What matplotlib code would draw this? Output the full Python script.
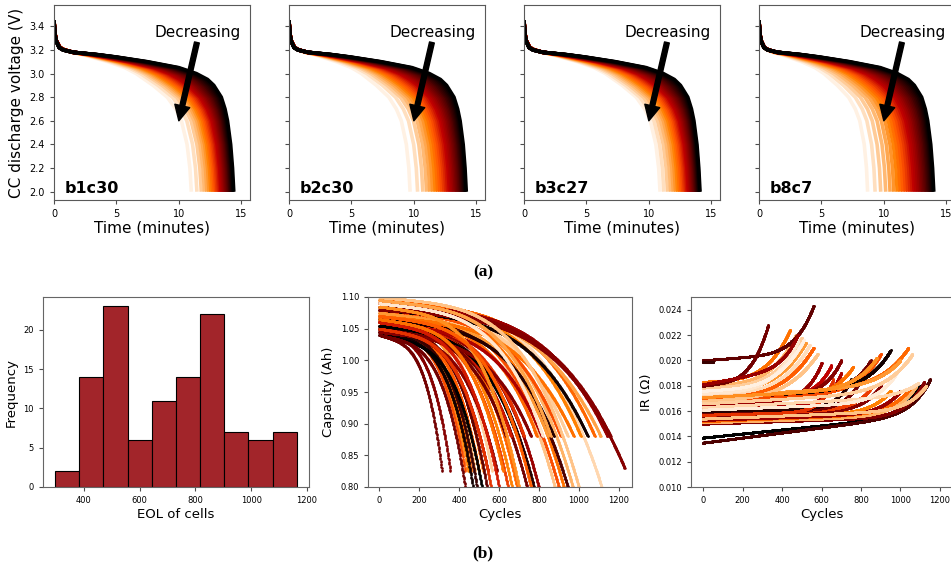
import numpy as np
import matplotlib
matplotlib.use('Agg')
import matplotlib.pyplot as plt

# ---- (a) CC discharge curves: shape of a fresh cycle and of the most aged cycle
tmpl_volt = [3.45, 3.35, 3.28, 3.22, 3.20, 3.18, 3.16, 3.14, 3.10, 3.05, 3.00,
             2.95, 2.90, 2.80, 2.70, 2.60, 2.40, 2.20, 2.00]
fresh_time = [0.0, 0.05, 0.15, 0.4, 0.7, 1.5, 3.5, 5.0, 7.5, 10.0, 11.4,
              12.3, 12.8, 13.4, 13.7, 13.9, 14.15, 14.3, 14.4]
aged_time = [0.0, 0.05, 0.15, 0.4, 0.7, 1.2, 2.0, 2.6, 3.8, 5.0, 5.8,
             6.4, 7.0, 8.0, 8.6, 9.0, 9.4, 9.6, 9.7]

cell_names = ['b1c30', 'b2c30', 'b3c27', 'b8c7']
# time (min) at which each cycle reaches 2.0 V, early cycles first
end_times = {
    'b1c30': [14.40, 14.34, 14.28, 14.22, 14.16, 14.10, 14.03, 13.96, 13.89, 13.81,
              13.73, 13.65, 13.56, 13.47, 13.38, 13.28, 13.18, 13.07, 12.96, 12.84,
              12.71, 12.57, 12.42, 12.25, 12.05, 11.80, 11.45, 11.00],
    'b2c30': [14.20, 14.13, 14.06, 13.98, 13.90, 13.82, 13.73, 13.64, 13.54, 13.44,
              13.33, 13.22, 13.10, 12.98, 12.85, 12.71, 12.57, 12.42, 12.26, 12.09,
              11.91, 11.72, 11.51, 11.28, 11.02, 10.72, 10.30, 9.70],
    'b3c27': [14.10, 14.05, 14.00, 13.95, 13.90, 13.84, 13.78, 13.72, 13.65, 13.58,
              13.50, 13.42, 13.34, 13.25, 13.16, 13.06, 12.96, 12.85, 12.73, 12.60,
              12.46, 12.31, 12.14, 11.96, 11.75, 11.50, 11.20, 10.90],
    'b8c7': [14.00, 13.92, 13.84, 13.75, 13.66, 13.56, 13.46, 13.35, 13.24, 13.12,
             13.00, 12.87, 12.73, 12.58, 12.43, 12.27, 12.10, 11.92, 11.73, 11.53,
             11.31, 11.07, 10.80, 10.50, 10.15, 9.75, 9.30, 8.70],
}

# ---- (b) histogram of end of life
eol_bin_lo = 297
eol_bin_hi = 1163
eol_counts = [2, 14, 23, 6, 11, 14, 22, 7, 6, 7]

# ---- (b) capacity fade per cell: start capacity, last cycle, last capacity, colour
cap_q0 = [1.040, 1.045, 1.050, 1.055, 1.060, 1.065, 1.055, 1.070, 1.050, 1.075,
          1.045, 1.045, 1.050, 1.040, 1.055, 1.060, 1.065, 1.070, 1.050, 1.055,
          1.060, 1.080, 1.075, 1.085, 1.070, 1.090, 1.095, 1.050, 1.060, 1.055,
          1.065, 1.045, 1.070, 1.060, 1.075, 1.065, 1.080, 1.085, 1.070, 1.090,
          1.080, 1.095, 1.085, 1.090, 1.085, 1.080, 1.060, 1.050, 1.100, 1.085,
          1.065, 1.040, 1.070, 1.090, 1.095]
cap_last = [314, 356, 430, 445, 462, 480, 500, 520, 545, 565,
            590, 470, 490, 515, 540, 645, 665, 690, 740, 775,
            800, 880, 900, 925, 945, 970, 1115, 635, 660, 690,
            725, 760, 790, 815, 845, 875, 910, 945, 975, 1010,
            1045, 1080, 1110, 1145, 1160, 1230, 600, 560, 1000, 700,
            620, 430, 760, 820, 860]
cap_end = [0.825, 0.825, 0.825, 0.825, 0.825, 0.825, 0.825, 0.825, 0.825, 0.825,
           0.825, 0.80, 0.80, 0.80, 0.80, 0.80, 0.80, 0.80, 0.80, 0.80,
           0.80, 0.80, 0.80, 0.80, 0.80, 0.80, 0.80, 0.88, 0.88, 0.88,
           0.88, 0.88, 0.88, 0.88, 0.88, 0.88, 0.88, 0.88, 0.88, 0.88,
           0.88, 0.88, 0.88, 0.88, 0.88, 0.83, 0.80, 0.80, 0.80, 0.80,
           0.825, 0.80, 0.80, 0.88, 0.88]
cap_shade = [0.30, 0.35, 0.65, 0.75, 0.70, 0.85, 0.68, 0.80, 0.45, 0.90,
             0.35, 0.05, 0.15, 0.00, 0.25, 0.62, 0.75, 0.70, 0.30, 0.10,
             0.40, 0.88, 0.65, 0.72, 0.20, 0.85, 0.92, 0.30, 0.55, 0.00,
             0.60, 0.35, 0.70, 0.45, 0.80, 0.10, 0.65, 0.90, 0.72, 0.75,
             0.05, 0.70, 0.82, 0.40, 0.35, 0.35, 0.55, 0.60, 0.88, 0.78,
             0.72, 0.30, 0.68, 0.95, 0.82]

# ---- (b) internal resistance per cell: start IR, drift per 1000 cycles, last cycle,
#      last IR, knee sharpness, colour
ir_r0 = [0.0139, 0.0135, 0.0150, 0.0151, 0.0152, 0.0153, 0.0155, 0.0156, 0.0158, 0.0159,
         0.0160, 0.0162, 0.0157, 0.0165, 0.0168, 0.0170, 0.0166, 0.0168, 0.0167, 0.0170,
         0.0169, 0.0172, 0.0183, 0.0180, 0.0178, 0.0175, 0.0172, 0.0170, 0.0168, 0.0174,
         0.0200, 0.0180, 0.0181, 0.0199, 0.0176, 0.0163, 0.0154, 0.0161, 0.0171, 0.0166]
ir_drift = [0.0016, 0.0020, 0.0005, 0.0005, 0.0006, 0.0005, 0.0004, 0.0005, 0.0004, 0.0003,
            0.0003, 0.0004, 0.0004, 0.0008, 0.0006, 0.0004, 0.0010, 0.0008, 0.0010, 0.0009,
            0.0012, 0.0008, 0.0010, 0.0010, 0.0010, 0.0010, 0.0010, 0.0010, 0.0010, 0.0008,
            0.0012, 0.0020, 0.0030, 0.0, 0.0010, 0.0008, 0.0006, 0.0006, 0.0008, 0.0009]
ir_last = [1100, 1150, 1120, 1080, 1050, 1000, 950, 900, 850, 800,
           750, 700, 660, 600, 650, 700, 760, 850, 900, 950,
           1040, 1000, 440, 470, 500, 520, 540, 560, 580, 480,
           560, 330, 480, 50, 510, 1090, 1130, 980, 880, 1060]
ir_end = [0.0180, 0.0185, 0.0183, 0.0180, 0.0178, 0.0176, 0.0176, 0.0180, 0.0178, 0.0185,
          0.0185, 0.0190, 0.0185, 0.0198, 0.0196, 0.0200, 0.0195, 0.0200, 0.0205, 0.0208,
          0.0210, 0.0200, 0.0224, 0.0220, 0.0218, 0.0214, 0.0212, 0.0210, 0.0205, 0.0215,
          0.0243, 0.0228, 0.0220, 0.0199, 0.0216, 0.0182, 0.0180, 0.0190, 0.0202, 0.0205]
ir_knee = [12, 12, 12, 10, 10, 10, 10, 10, 10, 10,
           10, 10, 10, 8, 8, 8, 8, 8, 8, 8,
           8, 8, 4, 4, 4, 4, 4, 4, 4, 4,
           6, 4, 6, 1, 4, 10, 12, 10, 8, 8]
ir_shade = [0.00, 0.20, 0.35, 0.85, 0.70, 0.40, 0.75, 0.35, 0.62, 0.30,
            0.10, 0.45, 0.60, 0.40, 0.50, 0.35, 0.72, 0.30, 0.65, 0.05,
            0.70, 0.80, 0.72, 0.85, 0.90, 0.80, 0.93, 0.68, 0.88, 0.95,
            0.25, 0.30, 0.40, 0.15, 0.97, 0.92, 0.88, 0.96, 0.78, 0.90]

cmap = plt.get_cmap('gist_heat')
W, H = 951, 569
fig = plt.figure(figsize=(W / 100, H / 100), dpi=100)

# ---------------- top row ----------------
tmpl_volt = np.array(tmpl_volt)
fresh = np.array(fresh_time) / fresh_time[-1]
aged = np.array(aged_time) / aged_time[-1]
top_lefts = [54, 289, 524, 759]
for i, name in enumerate(cell_names):
    ax = fig.add_axes([top_lefts[i] / W, 1 - 200 / H, 196 / W, 195 / H])
    ends = end_times[name]
    shades = np.linspace(0, 0.97, len(ends))
    for te, sh in reversed(list(zip(ends, shades))):
        w = sh / 0.97
        t = ((1 - w) * fresh + w * aged) * te
        ax.plot(t, tmpl_volt, color=cmap(sh), lw=2.6, solid_capstyle='butt',
                solid_joinstyle='round')
    ax.set_xlim(0, 15.7)
    ax.set_ylim(1.93, 3.58)
    ax.set_xticks([0, 5, 10, 15])
    ax.set_yticks(np.arange(2.0, 3.41, 0.2))
    ax.tick_params(labelsize=7, length=3, color='0.3')
    if i == 0:
        ax.set_ylabel('CC discharge voltage (V)', fontsize=11, labelpad=4)
    else:
        ax.set_yticklabels([])
    ax.set_xlabel('Time (minutes)', fontsize=11, labelpad=1)
    ax.text(0.056, 0.035, name, transform=ax.transAxes, fontsize=11.5,
            fontweight='bold', va='baseline')
    ax.annotate('Decreasing', xy=(10.0, 2.6), xytext=(11.5, 3.35),
                ha='center', va='center', fontsize=11,
                arrowprops=dict(facecolor='black', edgecolor='black', width=3.5,
                                headwidth=11, headlength=11, shrink=0.0))
    for sp in ax.spines.values():
        sp.set_color('0.35')

fig.text(483 / W, 1 - 272 / H, '(a)', ha='center', va='center',
         fontsize=12.5, fontweight='bold', family='Liberation Serif')
fig.text(483 / W, 1 - 553 / H, '(b)', ha='center', va='center',
         fontsize=12.5, fontweight='bold', family='Liberation Serif')

bot_y = 1 - 487 / H
bot_h = 190 / H

# ---------------- histogram ----------------
ax = fig.add_axes([43 / W, bot_y, 266 / W, bot_h])
edges = np.linspace(eol_bin_lo, eol_bin_hi, len(eol_counts) + 1)
ax.bar(edges[:-1], eol_counts, width=np.diff(edges), align='edge',
       color='#a2252a', edgecolor='black', linewidth=0.8)
ax.set_xlim(254, 1207)
ax.set_ylim(0, 24.2)
ax.set_xticks([400, 600, 800, 1000, 1200])
ax.set_yticks([0, 5, 10, 15, 20])
ax.set_xlabel('EOL of cells', fontsize=9.5, labelpad=2)
ax.set_ylabel('Frequency', fontsize=9.5)
ax.tick_params(labelsize=6, length=3, color='0.3')
for sp in ax.spines.values():
    sp.set_color('0.4')

# ---------------- capacity ----------------
ax = fig.add_axes([368 / W, bot_y, 264 / W, bot_h])
for q0, last, qend, sh in zip(cap_q0, cap_last, cap_end, cap_shade):
    n = np.arange(0, last + 1)
    x = n / last
    a = 0.03
    q = q0 - a * x - (q0 - a - qend) * x ** 4
    ax.plot(n, q, linestyle='none', marker='o', ms=1.8, mew=0, color=cmap(sh))
ax.set_xlim(-57, 1267)
ax.set_ylim(0.80, 1.10)
ax.set_xticks([0, 200, 400, 600, 800, 1000, 1200])
ax.set_yticks(np.arange(0.80, 1.101, 0.05))
ax.yaxis.set_major_formatter(matplotlib.ticker.FormatStrFormatter('%.2f'))
ax.set_xlabel('Cycles', fontsize=9.5, labelpad=2)
ax.set_ylabel('Capacity (Ah)', fontsize=9.5)
ax.tick_params(labelsize=6, length=3, color='0.3')
for sp in ax.spines.values():
    sp.set_color('0.4')

# ---------------- internal resistance ----------------
ax = fig.add_axes([691 / W, bot_y, 261 / W, bot_h])
for r0, dr, last, rend, p, sh in zip(ir_r0, ir_drift, ir_last, ir_end, ir_knee, ir_shade):
    n = np.arange(0, last + 1)
    base = r0 + dr * n / 1000
    r = base + (rend - r0 - dr * last / 1000) * (n / last) ** p
    ax.plot(n, r, linestyle='none', marker='o', ms=2.2, mew=0, color=cmap(sh))
ax.set_xlim(-61, 1261)
ax.set_ylim(0.010, 0.0250)
ax.set_xticks([0, 200, 400, 600, 800, 1000, 1200])
ax.set_yticks(np.arange(0.010, 0.0241, 0.002))
ax.yaxis.set_major_formatter(matplotlib.ticker.FormatStrFormatter('%.3f'))
ax.set_xlabel('Cycles', fontsize=9.5, labelpad=2)
ax.set_ylabel('IR (\u03a9)', fontsize=9.5)
ax.tick_params(labelsize=6, length=3, color='0.3')
for sp in ax.spines.values():
    sp.set_color('0.4')

fig.savefig('out.png', dpi=100)
